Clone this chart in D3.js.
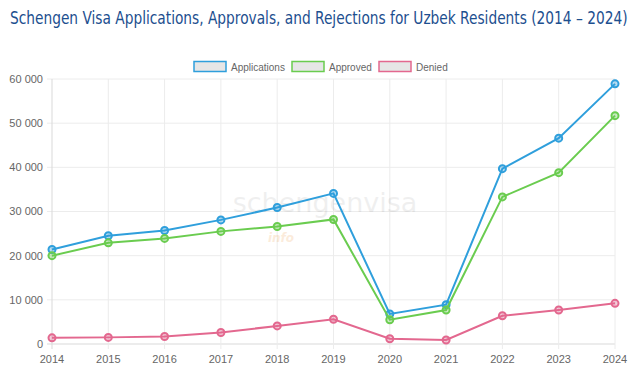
<!DOCTYPE html>
<html>
<head>
<meta charset="utf-8">
<script src="https://cdn.jsdelivr.net/npm/d3@7"></script>
<style>
  body { margin: 0; background: #fff; }
  svg { display: block; }
</style>
</head>
<body>
<div id="chart"></div>
<script>
// values
const years = [2014, 2015, 2016, 2017, 2018, 2019, 2020, 2021, 2022, 2023, 2024];
const applications = [21400, 24500, 25700, 28100, 30900, 34100, 6800, 8900, 39700, 46600, 58900];
const approved = [20000, 22900, 23900, 25500, 26600, 28200, 5500, 7700, 33300, 38800, 51700];
const denied = [1400, 1500, 1700, 2600, 4100, 5600, 1200, 900, 6400, 7700, 9200];
const yTicks = [0, 10000, 20000, 30000, 40000, 50000, 60000];

const series = [
  { name: 'Applications', values: applications, color: '#2f9fdc' },
  { name: 'Approved', values: approved, color: '#6acc4f' },
  { name: 'Denied', values: denied, color: '#e3688f' }
];

const width = 642, height = 379;
const margin = { top: 79, right: 27, bottom: 35, left: 52 };

const svg = d3.select('#chart').append('svg')
  .attr('width', width)
  .attr('height', height);

const x = d3.scalePoint()
  .domain(years)
  .range([margin.left, width - margin.right]);

const y = d3.scaleLinear()
  .domain([0, 60000])
  .range([height - margin.bottom, margin.top]);

const fmt = v => d3.format(',')(v).replace(/,/g, ' ');

// title - condensed by a horizontal scale so it fits the width
const title = svg.append('text')
  .attr('fill', '#1d4f8f')
  .style('font-family', '"DejaVu Sans Condensed", "DejaVu Sans", sans-serif')
  .style('font-size', '18px')
  .text('Schengen Visa Applications, Approvals, and Rejections for Uzbek Residents (2014 \u2013 2024)');
const tw = title.node().getComputedTextLength();
title.attr('transform', `translate(10,24) scale(${618 / tw},1)`);

// grid
const grid = svg.append('g');
grid.selectAll('line.h')
  .data(yTicks)
  .join('line')
  .attr('x1', margin.left - 5)
  .attr('x2', width - margin.right)
  .attr('y1', d => y(d))
  .attr('y2', d => y(d))
  .attr('stroke', d => d === 0 ? '#d9d9d9' : '#ececec')
  .attr('stroke-width', 1);

grid.selectAll('line.v')
  .data(years)
  .join('line')
  .attr('x1', d => x(d))
  .attr('x2', d => x(d))
  .attr('y1', margin.top)
  .attr('y2', height - margin.bottom + 5)
  .attr('stroke', (d, i) => i === 0 ? '#d9d9d9' : '#ececec')
  .attr('stroke-width', 1);

// watermark
svg.append('text')
  .attr('x', 325)
  .attr('y', 212)
  .attr('text-anchor', 'middle')
  .attr('fill', '#000')
  .attr('opacity', 0.06)
  .style('font-family', '"DejaVu Sans", sans-serif')
  .style('font-size', '27px')
  .text('schengenvisa');
svg.append('text')
  .attr('x', 281)
  .attr('y', 242)
  .attr('text-anchor', 'middle')
  .attr('fill', '#f0a050')
  .attr('opacity', 0.2)
  .style('font-family', '"DejaVu Sans", sans-serif')
  .style('font-size', '12px')
  .style('font-style', 'italic')
  .style('font-weight', 'bold')
  .text('info');

// y labels
svg.append('g')
  .selectAll('text')
  .data(yTicks)
  .join('text')
  .attr('x', margin.left - 9)
  .attr('y', d => y(d))
  .attr('dy', '0.35em')
  .attr('text-anchor', 'end')
  .attr('fill', '#666')
  .style('font-family', '"Liberation Sans", Arial, sans-serif')
  .style('font-size', '11px')
  .text(fmt);

// x labels
svg.append('g')
  .selectAll('text')
  .data(years)
  .join('text')
  .attr('x', d => x(d))
  .attr('y', height - margin.bottom + 19)
  .attr('text-anchor', 'middle')
  .attr('fill', '#666')
  .style('font-family', '"Liberation Sans", Arial, sans-serif')
  .style('font-size', '11px')
  .text(d => d);

// lines + points
const line = d3.line()
  .x((d, i) => x(years[i]))
  .y(d => y(d));

series.forEach(s => {
  const g = svg.append('g');
  g.append('path')
    .datum(s.values)
    .attr('fill', 'none')
    .attr('stroke', s.color)
    .attr('stroke-width', 2)
    .attr('d', line);
  g.selectAll('circle')
    .data(s.values)
    .join('circle')
    .attr('cx', (d, i) => x(years[i]))
    .attr('cy', d => y(d))
    .attr('r', 3.5)
    .attr('fill', d3.color(s.color).copy({ opacity: 0.35 }))
    .attr('stroke', s.color)
    .attr('stroke-width', 2);
});

// legend
const legendItems = [
  { x: 194, tx: 231 },
  { x: 292, tx: 329 },
  { x: 379, tx: 416 }
];
const legend = svg.append('g');
series.forEach((s, i) => {
  const it = legendItems[i];
  legend.append('rect')
    .attr('x', it.x)
    .attr('y', 61.5)
    .attr('width', 32)
    .attr('height', 10)
    .attr('fill', '#e6e6e6')
    .attr('stroke', s.color)
    .attr('stroke-width', 1.5);
  legend.append('text')
    .attr('x', it.tx)
    .attr('y', 67)
    .attr('dy', '0.35em')
    .attr('fill', '#666')
    .style('font-family', '"Liberation Sans", Arial, sans-serif')
    .style('font-size', '10px')
    .text(s.name);
});
</script>
</body>
</html>
